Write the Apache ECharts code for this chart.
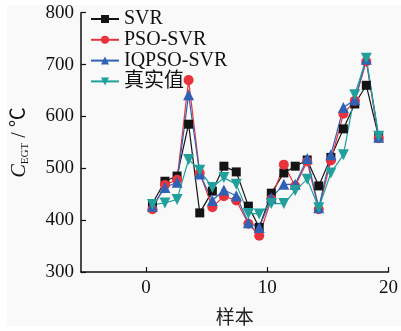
<!DOCTYPE html>
<html><head><meta charset="utf-8">
<script src="https://cdn.jsdelivr.net/npm/echarts@6/dist/echarts.min.js"></script>
<style>
html,body{margin:0;padding:0;background:#fff;}
#bg{position:absolute;left:7px;top:5px;width:394px;height:321px;background:#f9f9f9;}
#chart{position:absolute;left:0;top:0;width:401px;height:331px;}
</style></head>
<body>
<div id="bg"></div>
<div id="chart"></div>
<script>
var sampleX = [0.54,1.57,2.57,3.52,4.44,5.48,6.43,7.45,8.45,9.34,10.34,11.37,12.31,13.3,14.25,15.25,16.28,17.22,18.17,19.19];
var svr   = [432,475,485,585,414,456,504,493,427,386,452,491,504,516,466,521,576,624,660,560];
var pso   = [421,468,478,670,491,425,446,438,393,370,440,507,466,513,421,515,605,630,706,558];
var iqpso = [427,463,473,642,489,438,458,447,395,386,443,469,469,519,424,526,617,632,710,560];
var real  = [430,433,440,517,496,463,482,469,413,412,432,432,457,479,424,491,526,642,712,562];
var seriesNames = ['SVR','PSO-SVR','IQPSO-SVR','真实值'];
var xTicks = [0,10,20];

function pairs(ys){ return ys.map(function(v,i){ return [sampleX[i], v]; }); }

var serif = '"Liberation Serif","Times New Roman","Noto Sans CJK SC",serif';
var chart = echarts.init(document.getElementById('chart'), null, {renderer:'canvas'});
function mk(name, data, color, symbol, size, rot){
  return {name:name, type:'line', data:pairs(data), symbol:symbol, symbolSize:size, symbolRotate:rot||0,
    lineStyle:{color:color, width:1.2}, itemStyle:{color:color}, animation:false, z: 2};
}
chart.setOption({
  animation:false,
  backgroundColor:'transparent',
  grid:{left:81, right:7, top:12.7, bottom:52.7},
  legend:{
    orient:'vertical', left:90, top:9, padding:0, itemWidth:28, itemHeight:10, itemGap:0.8,
    textStyle:{fontFamily:serif, fontSize:20, color:'#111', lineHeight:20},
    data:seriesNames
  },
  xAxis:{
    type:'value', min:-5.35, max:20,
    name:'样本', nameLocation:'middle', nameGap:35,
    nameTextStyle:{fontFamily:'"Noto Sans CJK SC",sans-serif', fontSize:19, color:'#222'},
    axisLine:{onZero:false, lineStyle:{color:'#111', width:1.5}},
    axisTick:{inside:true, length:5, customValues:xTicks, lineStyle:{color:'#111', width:1.2}},
    axisLabel:{customValues:xTicks, fontFamily:serif, fontSize:19, color:'#111', margin:7},
    splitLine:{show:false}
  },
  yAxis:{
    type:'value', min:300, max:800, interval:100,
    name:'{i|C}{s|EGT}{n| / ℃}', nameLocation:'middle', nameGap:50, nameRotate:90,
    nameTextStyle:{
      rich:{
        i:{fontFamily:serif, fontStyle:'italic', fontSize:20, color:'#111', lineHeight:22},
        s:{fontFamily:serif, fontSize:11, color:'#111', verticalAlign:'bottom', lineHeight:22, padding:[8,0,0,0]},
        n:{fontFamily:serif, fontSize:20, color:'#111', lineHeight:22}
      }
    },
    axisLine:{show:true, onZero:false, lineStyle:{color:'#111', width:1.5}},
    axisTick:{show:true, inside:true, length:5, lineStyle:{color:'#111', width:1.2}},
    axisLabel:{fontFamily:serif, fontSize:19, color:'#111', margin:7},
    splitLine:{show:false}
  },
  series:[
    mk(seriesNames[0], svr, '#141414', 'rect', 9),
    mk(seriesNames[1], pso, '#e8323c', 'circle', 10),
    mk(seriesNames[2], iqpso, '#2f62b5', 'triangle', 11),
    mk(seriesNames[3], real, '#21a09b', 'triangle', 11, 180)
  ]
});
</script>
</body></html>
